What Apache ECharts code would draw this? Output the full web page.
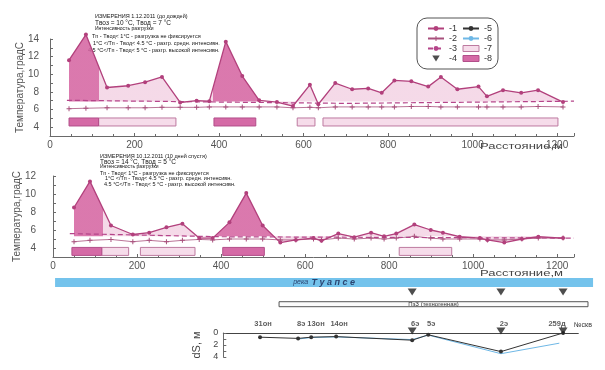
<!DOCTYPE html>
<html><head><meta charset="utf-8">
<script src="https://cdn.jsdelivr.net/npm/echarts@6/dist/echarts.min.js"></script>
<style>html,body{margin:0;padding:0;background:#fff}#c{width:605px;height:370px}</style>
</head><body><div id="c"></div>
<script>
// ---------- DATA ----------
// Top panel (1.12.2011)
const distTop = [45, 85, 135, 185, 225, 265, 308, 347, 377, 416, 455, 495, 537, 575, 615, 635, 675, 715, 753, 785, 815, 855, 895, 925, 964, 1014, 1034, 1072, 1115, 1155, 1214];
const tempTop = [11.6, 14.5, 8.5, 8.7, 9.1, 9.7, 6.8, 7.0, 6.95, 13.7, 9.8, 7.05, 6.85, 6.4, 8.8, 6.6, 9.0, 8.3, 8.4, 7.9, 9.3, 9.2, 8.6, 9.7, 8.3, 8.6, 7.5, 8.2, 7.9, 8.2, 6.85];
const bgTop   = [6.1, 6.15, 6.2, 6.2, 6.2, 6.25, 6.25, 6.25, 6.3, 6.3, 6.3, 6.3, 6.3, 6.2, 6.25, 6.2, 6.3, 6.3, 6.3, 6.3, 6.3, 6.35, 6.35, 6.3, 6.3, 6.3, 6.3, 6.3, 6.3, 6.35, 6.3];
const threshTopX = [40, 400, 700, 1240];
const threshTopY = [7.05, 6.85, 6.7, 6.95];
const baseTop = 6.9;
const darkZonesTop = [[45, 116], [385, 495]];
const darkBoxesTop = [[45, 115], [388, 487]];
const lightBoxesTop = [[115, 298], [585, 627], [646, 1202]];

// Middle panel (10.12.2011)
const distMid = [50, 88, 138, 190, 229, 270, 308, 348, 380, 420, 460, 499, 541, 578, 620, 639, 679, 717, 757, 788, 817, 860, 899, 928, 968, 1016, 1034, 1074, 1116, 1155, 1214];
const tempMid = [8.5, 11.4, 6.5, 5.5, 5.7, 6.3, 6.7, 5.1, 5.1, 6.85, 10.1, 6.5, 4.6, 4.9, 5.1, 4.8, 5.6, 5.2, 5.7, 5.3, 5.6, 6.6, 6.0, 5.7, 5.25, 5.1, 4.9, 4.6, 5.0, 5.25, 5.1];
const bgMid   = [4.7, 4.85, 4.95, 4.7, 4.85, 4.7, 4.85, 4.95, 4.9, 5.0, 5.0, 5.0, 4.9, 4.9, 5.0, 4.9, 5.1, 5.0, 5.1, 5.0, 5.1, 5.3, 5.1, 5.0, 5.0, 5.0, 4.9, 4.9, 5.0, 5.1, 5.1];
const threshMidX = [40, 400, 1240];
const threshMidY = [5.6, 5.25, 5.1];
const baseMid = 5.3;
const darkZonesMid = [[43, 118], [383, 528]];
const darkBoxesMid = [[45, 116], [404, 503]];
const lightBoxesMid = [[116, 180], [208, 338], [824, 949]];

// Wells and settlement dS
const wellNames = ['31он', '8э', '13он', '14он', '6э', '5э', '2э', '259д'];
const wellDist  = [497, 587, 618, 677, 857, 895, 1067, 1214];
const dsBlack   = [0.7, 0.9, 0.7, 0.6, 1.2, 0.3, 3.1, 0.0];
const blueDist  = [587, 618, 677, 857, 895, 1067, 1205];
const dsBlue    = [1.0, 0.75, 0.65, 1.1, 0.35, 3.45, 1.7];
const markedWells = ['6э', '2э', '259д'];
const riverRange = [12, 1285];
const pzzRange = [542, 1273];

const xTickLabels = [0, 200, 400, 600, 800, 1000, 1200];

// ---------- BUILD ----------
const FONT = '"Liberation Sans", Arial, sans-serif';
const AX = '#6a6a6a';
const MAG = '#b2407c';
const DARK = '#d4619f';
const LIGHT = '#f3d3e4';
const tri = 'path://M0,0L10,0L5,8Z';
const plus = 'path://M4,0h2v4h4v2h-4v4h-2v-4h-4v-2h4z';

const zip = (a, b) => a.map((v, i) => [v, b[i]]);
function zonePieces(zones) {
  const p = []; let cur = -1e6;
  zones.forEach(([a, b]) => { p.push({ gte: cur, lt: a, color: LIGHT }); p.push({ gte: a, lt: b, color: DARK }); cur = b; });
  p.push({ gte: cur, lte: 1e6, color: LIGHT });
  return p;
}
function boxSeries(name, ranges, idx, yVal, h, fill, stroke) {
  return {
    type: 'custom', name, xAxisIndex: idx, yAxisIndex: idx, data: ranges, z: 3,
    itemStyle: { color: fill, borderColor: stroke },
    renderItem: (params, api) => {
      const a = api.coord([api.value(0), yVal]);
      const b = api.coord([api.value(1), yVal]);
      return { type: 'rect', shape: { x: a[0], y: a[1] - h / 2, width: b[0] - a[0], height: h }, style: { fill, stroke, lineWidth: 1 } };
    }
  };
}
function panelSeries(idx, dist, temp, bg, tx, ty, base, darkBoxes, lightBoxes, boxY) {
  return [
    { type: 'line', name: 'fill' + idx, xAxisIndex: idx, yAxisIndex: idx, data: zip(dist, temp), symbol: 'none', clip: false,
      lineStyle: { width: 0 }, areaStyle: { origin: base, opacity: 0.85 }, z: 1, silent: true },
    { type: 'line', name: '1', xAxisIndex: idx, yAxisIndex: idx, data: zip(dist, temp), symbol: 'circle', symbolSize: 4, clip: false,
      itemStyle: { color: MAG }, lineStyle: { color: MAG, width: 1.3 }, z: 5 },
    { type: 'line', name: '2', xAxisIndex: idx, yAxisIndex: idx, data: zip(dist, bg), symbol: plus, symbolSize: 5,
      itemStyle: { color: '#a8507c' }, lineStyle: { color: '#a8507c', width: 0.8 }, z: 4 },
    { type: 'line', name: '3', xAxisIndex: idx, yAxisIndex: idx, data: zip(tx, ty), symbol: 'none',
      itemStyle: { color: '#b5458a' }, lineStyle: { color: '#b5458a', width: 1.2, type: [5, 3] }, z: 4 },
    boxSeries('7', lightBoxes, idx, boxY, 8, '#f6dcea', '#bd7aa0'),
    boxSeries('8', darkBoxes, idx, boxY, 8, '#d56aa6', '#b24f8a')
  ];
}
function xAxisMain(gi) {
  return {
    type: 'value', gridIndex: gi, min: 0, max: 1240, interval: 200,
    axisLine: { onZero: false, lineStyle: { color: AX } },
    axisTick: { inside: true, length: 3, lineStyle: { color: AX } },
    minorTick: { show: true, splitNumber: 4, length: 2, lineStyle: { color: AX } },
    splitLine: { show: false },
    axisLabel: { color: '#555', fontSize: 10, margin: 4, showMaxLabel: false, fontFamily: FONT,
      formatter: v => xTickLabels.includes(v) ? String(v) : '' }
  };
}
function yAxisMain(gi, min, max, offset) {
  return {
    type: 'value', gridIndex: gi, min, max, interval: 1, offset,
    name: 'Температура,градС', nameLocation: 'middle', nameGap: 20, nameMoveOverlap: false,
    nameTextStyle: { color: '#555', fontSize: 10, fontFamily: FONT },
    axisLine: { show: true, lineStyle: { color: AX } },
    axisTick: { inside: true, length: 3, lineStyle: { color: AX } },
    splitLine: { show: false },
    axisLabel: { color: '#555', fontSize: 10, margin: 6, fontFamily: FONT,
      formatter: v => (v % 2 === 0 && v >= 4) ? String(v) : '' }
  };
}

const wellIndex = n => wellNames.indexOf(n);
const markedDist = markedWells.map(n => wellDist[wellIndex(n)]);

const labelTweaks = { '8э': { align: 'left', offset: [-1, 0] }, '13он': { align: 'left', offset: [-4, 0] }, '259д': { align: 'center', offset: [-6, 0] } };

const series = [
  ...panelSeries(0, distTop, tempTop, bgTop, threshTopX, threshTopY, baseTop, darkBoxesTop, lightBoxesTop, 4.59),
  ...panelSeries(1, distMid, tempMid, bgMid, threshMidX, threshMidY, baseMid, darkBoxesMid, lightBoxesMid, 3.62),
  // river / ПзЗ strip with triangles
  { type: 'scatter', name: '4', xAxisIndex: 3, yAxisIndex: 3, data: markedDist.map(d => [d, 6.67]),
    symbol: tri, symbolSize: [9, 7], itemStyle: { color: '#222' }, z: 5,
    markArea: { silent: true, data: [
      [{ xAxis: riverRange[0], yAxis: 11.33, itemStyle: { color: '#74c3ec' },
         label: { show: true, position: 'inside', formatter: '{a|река} {b|Т у а п с е}',
           rich: { a: { fontSize: 7, fontStyle: 'italic', color: '#2a4470', fontFamily: FONT },
                   b: { fontSize: 9, fontStyle: 'italic', fontWeight: 'bold', color: '#2a4470', fontFamily: FONT } } } },
       { xAxis: riverRange[1], yAxis: 8.33 }],
      [{ xAxis: pzzRange[0], yAxis: 3.43, itemStyle: { color: '#fbfbfb', borderColor: '#555', borderWidth: 1 },
         label: { show: true, position: 'inside', formatter: 'ПзЗ (техногенная)', fontSize: 6, color: '#333', fontFamily: FONT } },
       { xAxis: pzzRange[1], yAxis: 1.77 }]
    ] } },
  // dS panel
  { type: 'line', name: '5', xAxisIndex: 2, yAxisIndex: 2, data: zip(wellDist, dsBlack), symbol: 'circle', symbolSize: 4,
    itemStyle: { color: '#333' }, lineStyle: { color: '#333', width: 1 }, z: 4 },
  { type: 'line', name: '6', xAxisIndex: 2, yAxisIndex: 2, data: zip(blueDist, dsBlue), symbol: 'none',
    itemStyle: { color: '#6fb8e6' }, lineStyle: { color: '#6fb8e6', width: 1 }, z: 3 },
  { type: 'scatter', name: '4', xAxisIndex: 2, yAxisIndex: 2, data: markedDist.map(d => [d, 0]),
    symbol: tri, symbolSize: [9, 7], symbolOffset: [0, -2], itemStyle: { color: '#222' }, z: 6 },
  { type: 'scatter', name: 'wells', xAxisIndex: 2, yAxisIndex: 2, symbol: 'circle', symbolSize: 1, silent: true,
    itemStyle: { color: 'rgba(0,0,0,0)' }, z: 7,
    data: wellDist.map((d, i) => ({ value: [d, 0], label: Object.assign({ show: true, position: 'top', distance: 5,
      formatter: wellNames[i], fontSize: 7.5, fontWeight: 'bold', color: '#333', fontFamily: FONT, align: 'center', offset: [3, 0] },
      labelTweaks[wellNames[i]] || {}) })) }
];

const textLine = (x, y, t, fs) => ({ type: 'text', x, y, style: { text: t, fontSize: fs, fill: '#151515', fontFamily: FONT, verticalAlign: 'middle' } });
const axisTitle = (y) => ({ type: 'text', x: 563, y, scaleX: 1.45, style: { text: 'Расстояние,м', fontSize: 9, fill: '#444', fontFamily: FONT, align: 'right', verticalAlign: 'middle' } });

const option = {
  animation: false,
  backgroundColor: '#fff',
  textStyle: { fontFamily: FONT },
  grid: [
    { left: 50, top: 39, width: 524, height: 97 },
    { left: 53, top: 176, width: 521, height: 81 },
    { left: 223.3, top: 333, width: 355, height: 24 },
    { left: 50, top: 276, width: 549.4, height: 36 }
  ],
  xAxis: [
    xAxisMain(0), xAxisMain(1),
    { type: 'value', gridIndex: 2, min: 410, max: 1250, axisLine: { onZero: true, lineStyle: { color: '#444' } },
      axisTick: { show: false }, axisLabel: { show: false }, splitLine: { show: false } },
    { type: 'value', gridIndex: 3, min: 0, max: 1300, show: false }
  ],
  yAxis: [
    yAxisMain(0, 3, 14, 5),
    yAxisMain(1, 3, 12, 11),
    { type: 'value', gridIndex: 2, min: 0, max: 4, interval: 1, inverse: true,
      name: 'dS, м', nameLocation: 'middle', nameGap: 15, nameTextStyle: { color: '#444', fontSize: 11, fontFamily: FONT },
      axisLine: { show: true, lineStyle: { color: AX } }, axisTick: { inside: true, length: 3, lineStyle: { color: AX } },
      splitLine: { show: false },
      axisLabel: { color: '#444', fontSize: 9, margin: 5, formatter: v => v % 2 === 0 ? String(v) : '' } },
    { type: 'value', gridIndex: 3, min: 0, max: 12, show: false }
  ],
  visualMap: [
    { type: 'piecewise', show: false, dimension: 0, seriesIndex: 0, pieces: zonePieces(darkZonesTop) },
    { type: 'piecewise', show: false, dimension: 0, seriesIndex: 6, pieces: zonePieces(darkZonesMid) }
  ],
  legend: {
    left: 417, top: 18, orient: 'vertical', height: 42,
    padding: [6, 2, 6, 10], itemGap: 1, itemWidth: 16, itemHeight: 6,
    borderColor: '#555', borderWidth: 1, borderRadius: 10,
    formatter: n => '-' + n,
    textStyle: { fontSize: 9, color: '#333', lineHeight: 8, width: 12, fontFamily: FONT },
    data: [
      { name: '1' }, { name: '2' }, { name: '3' }, { name: '4', icon: tri },
      { name: '5' }, { name: '6' },
      { name: '7', icon: 'rect', itemStyle: { color: '#f6dcea', borderColor: '#bd7aa0', borderWidth: 1 } },
      { name: '8', icon: 'rect', itemStyle: { color: '#d56aa6', borderColor: '#b24f8a', borderWidth: 1 } }
    ]
  },
  graphic: [
    textLine(95, 16, 'ИЗМЕРЕНИЯ 1.12.2011 (до дождей)', 5.5),
    textLine(95, 23, 'Tвоз = 10 °C, Tвод = 7 °C', 6.5),
    textLine(95, 29, 'Интенсивность разгрузки', 5),
    textLine(92, 36, 'Tп - Tвод< 1°C - разгрузка не фиксируется', 5.5),
    textLine(93, 43, '1°C </Tп - Tвод< 4.5 °C - разгр. средн. интенсивн.', 5.5),
    textLine(88, 50, '4.5 °C</Tп - Tвод< 5 °C - разгр. высокой интенсивн.', 5.5),
    textLine(100, 156, 'ИЗМЕРЕНИЯ 10.12.2011 (10 дней спустя)', 5.5),
    textLine(100, 162, 'Tвоз = 14 °C, Tвод = 5 °C', 6.5),
    textLine(100, 167, 'Интенсивность разгрузки', 5),
    textLine(100, 173, 'Tп - Tвод< 1°C - разгрузка не фиксируется', 5.5),
    textLine(105, 178, '1°C </Tп - Tвод< 4.5 °C - разгр. средн. интенсивн.', 5.5),
    textLine(104, 184, '4.5 °C</Tп - Tвод< 5 °C - разгр. высокой интенсивн.', 5.5),
    axisTitle(147), axisTitle(274),
    { type: 'text', x: 583, y: 325, style: { text: '№скв', fontSize: 7, fill: '#333', fontFamily: FONT, align: 'center', verticalAlign: 'middle' } }
  ],
  series
};
const chart = echarts.init(document.getElementById('c'));
chart.setOption(option);
</script>
</body></html>
